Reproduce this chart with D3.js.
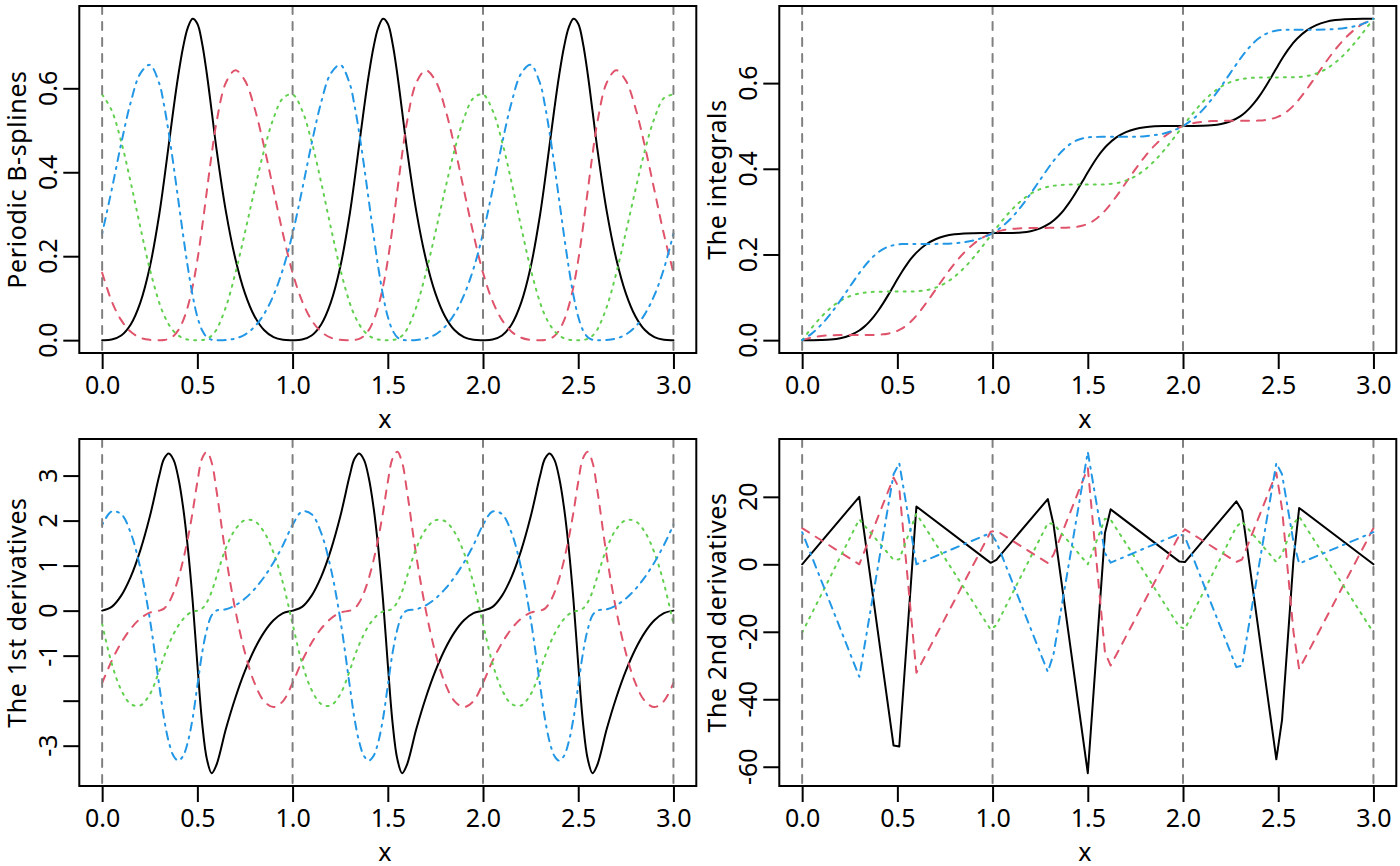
<!DOCTYPE html>
<html>
<head>
<meta charset="utf-8">
<script src="https://cdn.jsdelivr.net/npm/d3@7"></script>
<style>
body { margin:0; background:#fff; }
text { font-family:"Noto Sans", "Open Sans", sans-serif; fill:#000; }
</style>
</head>
<body>
<script>
// x grid shared by the first three panels (finer between 0.3 and 0.6 of each period)
var xs = [0,.05,.1,.15,.2,.25,.3,.325,.35,.375,.4,.425,.45,.475,.5,.525,.55,.575,.6,.65,.7,.75,.8,.85,.9,.95,
  1,1.05,1.1,1.15,1.2,1.25,1.3,1.325,1.35,1.375,1.4,1.425,1.45,1.475,1.5,1.525,1.55,1.575,1.6,1.65,1.7,1.75,1.8,1.85,1.9,1.95,
  2,2.05,2.1,2.15,2.2,2.25,2.3,2.325,2.35,2.375,2.4,2.425,2.45,2.475,2.5,2.525,2.55,2.575,2.6,2.65,2.7,2.75,2.8,2.85,2.9,2.95,
  3];

// periodic B-splines
var bsBlack = [0,.0014,.0111,.0375,.0889,.1736,.3,.3802,.4665,.5525,.6317,.6979,.7446,.7655,.754,.7069,.6335,.5462,.4571,.3063,.1929,.1116,.0571,.0241,.0071,.0009,
  0,.0014,.0111,.0375,.0889,.1736,.3,.3802,.4665,.5525,.6317,.6979,.7446,.7655,.754,.7069,.6335,.5462,.4571,.3063,.1929,.1116,.0571,.0241,.0071,.0009,
  0,.0014,.0111,.0375,.0889,.1736,.3,.3802,.4665,.5525,.6317,.6979,.7446,.7655,.754,.7069,.6335,.5462,.4571,.3063,.1929,.1116,.0571,.0241,.0071,.0009,
  0];
var bsRed = [.1607,.093,.0476,.0201,.006,.0007,0,.0004,.003,.01,.0238,.0465,.0804,.1276,.1905,.2693,.3564,.4424,.5179,.6138,.6429,.6183,.5536,.4621,.3571,.2522,
  .1607,.093,.0476,.0201,.006,.0007,0,.0004,.003,.01,.0238,.0465,.0804,.1276,.1905,.2693,.3564,.4424,.5179,.6138,.6429,.6183,.5536,.4621,.3571,.2522,
  .1607,.093,.0476,.0201,.006,.0007,0,.0004,.003,.01,.0238,.0465,.0804,.1276,.1905,.2693,.3564,.4424,.5179,.6138,.6429,.6183,.5536,.4621,.3571,.2522,
  .1607];
var bsGreen = [.5853,.5475,.473,.3759,.2702,.1699,.0889,.0595,.0375,.0217,.0111,.0047,.0014,.0002,0,.0004,.0031,.0105,.025,.0794,.1603,.2567,.3575,.4518,.5286,.5767,
  .5853,.5475,.473,.3759,.2702,.1699,.0889,.0595,.0375,.0217,.0111,.0047,.0014,.0002,0,.0004,.0031,.0105,.025,.0794,.1603,.2567,.3575,.4518,.5286,.5767,
  .5853,.5475,.473,.3759,.2702,.1699,.0889,.0595,.0375,.0217,.0111,.0047,.0014,.0002,0,.0004,.0031,.0105,.025,.0794,.1603,.2567,.3575,.4518,.5286,.5767,
  .5853];
var bsBlue = [.254,.3581,.4683,.5665,.6349,.6558,.6111,.5599,.4931,.4158,.3333,.2509,.1736,.1068,.0556,.0234,.0069,.0009,0,.0005,.004,.0134,.0317,.062,.1071,.1701,
  .254,.3581,.4683,.5665,.6349,.6558,.6111,.5599,.4931,.4158,.3333,.2509,.1736,.1068,.0556,.0234,.0069,.0009,0,.0005,.004,.0134,.0317,.062,.1071,.1701,
  .254,.3581,.4683,.5665,.6349,.6558,.6111,.5599,.4931,.4158,.3333,.2509,.1736,.1068,.0556,.0234,.0069,.0009,0,.0005,.004,.0134,.0317,.062,.1071,.1701,
  .254];

// the integrals
var ibBlack = [0,0,.0003,.0014,.0044,.0109,.0225,.031,.0416,.0543,.0691,.0858,.1039,.1228,.1419,.1602,.177,.1918,.2043,.2232,.2355,.243,.2471,.2491,.2498,.25,
  .25,.25,.2503,.2514,.2544,.2609,.2725,.281,.2916,.3043,.3191,.3358,.3539,.3728,.3919,.4102,.427,.4418,.4543,.4732,.4855,.493,.4971,.4991,.4998,.5,
  .5,.5,.5003,.5014,.5044,.5109,.5225,.531,.5416,.5543,.5691,.5858,.6039,.6228,.6419,.6602,.677,.6918,.7043,.7232,.7355,.743,.7471,.7491,.7498,.75,
  .75];
var ibRed = [0,.0062,.0097,.0113,.0119,.012,.0121,.0121,.0121,.0122,.0127,.0135,.0151,.0176,.0216,.0273,.0351,.0451,.0571,.0857,.1174,.1491,.1786,.204,.2246,.2398,
  .25,.2562,.2597,.2613,.2619,.262,.2621,.2621,.2621,.2622,.2627,.2635,.2651,.2676,.2716,.2773,.2851,.2951,.3071,.3357,.3674,.3991,.4286,.454,.4746,.4898,
  .5,.5062,.5097,.5113,.5119,.512,.5121,.5121,.5121,.5122,.5127,.5135,.5151,.5176,.5216,.5273,.5351,.5451,.5571,.5857,.6174,.6491,.6786,.704,.7246,.7398,
  .75];
var ibGreen = [0,.0285,.0541,.0754,.0916,.1025,.1089,.1107,.1119,.1127,.1131,.1133,.1133,.1133,.1133,.1134,.1134,.1135,.114,.1165,.1224,.1327,.1481,.1684,.193,.2208,
  .25,.2785,.3041,.3254,.3416,.3525,.3589,.3607,.3619,.3627,.3631,.3633,.3633,.3633,.3633,.3634,.3634,.3635,.364,.3665,.3724,.3827,.3981,.4184,.443,.4708,
  .5,.5285,.5541,.5754,.5916,.6025,.6089,.6107,.6119,.6127,.6131,.6133,.6133,.6133,.6133,.6134,.6134,.6135,.614,.6165,.6224,.6327,.6481,.6684,.693,.7208,
  .75];
var ibBlue = [0,.0152,.0359,.0619,.0921,.1246,.1565,.1712,.1844,.1958,.2052,.2125,.2178,.2212,.2232,.2242,.2245,.2246,.2246,.2246,.2247,.2251,.2262,.2285,.2326,.2395,
  .25,.2652,.2859,.3119,.3421,.3746,.4065,.4212,.4344,.4458,.4552,.4625,.4678,.4712,.4732,.4742,.4745,.4746,.4746,.4746,.4747,.4751,.4762,.4785,.4826,.4895,
  .5,.5152,.5359,.5619,.5921,.6246,.6565,.6712,.6844,.6958,.7052,.7125,.7178,.7212,.7232,.7242,.7245,.7246,.7246,.7246,.7247,.7251,.7262,.7285,.7326,.7395,
  .75];

// the 1st derivatives
var d1Black = [0,.083,.333,.75,1.333,2.083,3,3.372,3.488,3.348,2.952,2.301,1.393,.229,-1.19,-2.491,-3.298,-3.61,-3.429,-2.625,-1.929,-1.339,-.857,-.482,-.214,-.054,
  0,.083,.333,.75,1.333,2.083,3,3.372,3.488,3.348,2.952,2.301,1.393,.229,-1.19,-2.491,-3.298,-3.61,-3.429,-2.625,-1.929,-1.339,-.857,-.482,-.214,-.054,
  0,.083,.333,.75,1.333,2.083,3,3.372,3.488,3.348,2.952,2.301,1.393,.229,-1.19,-2.491,-3.298,-3.61,-3.429,-2.625,-1.929,-1.339,-.857,-.482,-.214,-.054,
  0];
var d1Red = [-1.607,-1.116,-.714,-.402,-.179,-.045,0,.045,.179,.402,.714,1.116,1.607,2.188,2.857,3.382,3.527,3.292,2.679,1.205,0,-.938,-1.607,-2.009,-2.143,-2.009,
  -1.607,-1.116,-.714,-.402,-.179,-.045,0,.045,.179,.402,.714,1.116,1.607,2.188,2.857,3.382,3.527,3.292,2.679,1.205,0,-.938,-1.607,-2.009,-2.143,-2.009,
  -1.607,-1.116,-.714,-.402,-.179,-.045,0,.045,.179,.402,.714,1.116,1.607,2.188,2.857,3.382,3.527,3.292,2.679,1.205,0,-.938,-1.607,-2.009,-2.143,-2.009,
  -1.607];
var d1Green = [-.298,-1.17,-1.762,-2.074,-2.107,-1.86,-1.333,-1.021,-.75,-.521,-.333,-.188,-.083,-.021,0,.047,.188,.422,.75,1.39,1.81,2.009,1.988,1.747,1.286,.604,
  -.298,-1.17,-1.762,-2.074,-2.107,-1.86,-1.333,-1.021,-.75,-.521,-.333,-.188,-.083,-.021,0,.047,.188,.422,.75,1.39,1.81,2.009,1.988,1.747,1.286,.604,
  -.298,-1.17,-1.762,-2.074,-2.107,-1.86,-1.333,-1.021,-.75,-.521,-.333,-.188,-.083,-.021,0,.047,.188,.422,.75,1.39,1.81,2.009,1.988,1.747,1.286,.604,
  -.298];
var d1Blue = [1.905,2.202,2.143,1.726,.952,-.179,-1.667,-2.396,-2.917,-3.229,-3.333,-3.229,-2.917,-2.396,-1.667,-.938,-.417,-.104,0,.03,.119,.268,.476,.744,1.071,1.458,
  1.905,2.202,2.143,1.726,.952,-.179,-1.667,-2.396,-2.917,-3.229,-3.333,-3.229,-2.917,-2.396,-1.667,-.938,-.417,-.104,0,.03,.119,.268,.476,.744,1.071,1.458,
  1.905,2.202,2.143,1.726,.952,-.179,-1.667,-2.396,-2.917,-3.229,-3.333,-3.229,-2.917,-2.396,-1.667,-.938,-.417,-.104,0,.03,.119,.268,.476,.744,1.071,1.458,
  1.905];

// the 2nd derivatives are straight between these points
var xs2 = [0,.3,.48,.51,.6,.99,1.02,1.29,1.32,1.5,1.59,1.62,1.98,2.01,2.28,2.31,2.49,2.52,2.58,2.61,3];
var d2Black = [0,20,-53.71,-54,17.14,.43,1.33,19.33,11.81,-61.9,9.24,16.29,.86,.67,18.67,15.9,-57.81,-46.1,1.33,16.71,0];
var d2Red = [10.71,0,25.71,22.5,-32.14,9.64,10,.36,2.86,28.57,-26.07,-30,8.57,10.36,.71,1.43,27.14,16.43,-20,-31.07,10.71];
var d2Green = [-20.24,13.33,1.33,1.5,15,-19.36,-18,12.21,12,0,13.5,13.24,-18.48,-19.12,11.1,12.67,.67,3,12,14.12,-20.24];
var d2Blue = [9.52,-33.33,26.67,30,0,9.29,6.67,-31.9,-26.67,33.33,3.33,.48,9.05,8.1,-30.48,-30,30,26.67,6.67,.24,9.52];

var xTicks = [0, 0.5, 1, 1.5, 2, 2.5, 3];
var vLines = [0, 1, 2, 3];
var ticksB = [0, 0.2, 0.4, 0.6];
var ticksD1 = [-3, -2, -1, 0, 1, 2, 3];
var labelsD1 = ['-3', '', '-1', '0', '1', '2', '3'];
var ticksD2 = [-60, -40, -20, 0, 20];

var width = 1400, height = 866;
var svg = d3.select('body').append('svg')
    .attr('width', width)
    .attr('height', height);

// matplot colours and line types 1..4
var colors = ['#000000', '#DF536B', '#61D04F', '#2297E6'];
var dashes = [null, '8,8', '2,6', '2,6,8,6'];
var fs = 25;

var pw = 617, ph = 347;
var panels = [
    {left: 79.3, top: 6, x: xs, ys: [bsBlack, bsRed, bsGreen, bsBlue], ticks: ticksB,
     labels: ticksB.map(function(d){ return d.toFixed(1); }), title: 'Periodic B-splines', smooth: true},
    {left: 779.3, top: 6, x: xs, ys: [ibBlack, ibRed, ibGreen, ibBlue], ticks: ticksB,
     labels: ticksB.map(function(d){ return d.toFixed(1); }), title: 'The integrals', smooth: true},
    {left: 79.3, top: 439, x: xs, ys: [d1Black, d1Red, d1Green, d1Blue], ticks: ticksD1,
     labels: labelsD1, title: 'The 1st derivatives', smooth: true},
    {left: 779.3, top: 439, x: xs2, ys: [d2Black, d2Red, d2Green, d2Blue], ticks: ticksD2,
     labels: ticksD2.map(String), title: 'The 2nd derivatives', smooth: false}
];

panels.forEach(function(p, i) {
    var g = svg.append('g').attr('transform', 'translate(' + p.left + ',' + p.top + ')');

    // R style ranges: data extent stretched by 4% each side
    var xe = d3.extent(p.x), xpad = (xe[1] - xe[0]) * 0.04;
    var ye = d3.extent(d3.merge(p.ys)), ypad = (ye[1] - ye[0]) * 0.04;
    var x = d3.scaleLinear().domain([xe[0] - xpad, xe[1] + xpad]).range([0, pw]);
    var y = d3.scaleLinear().domain([ye[0] - ypad, ye[1] + ypad]).range([ph, 0]);

    g.append('clipPath').attr('id', 'clip' + i)
        .append('rect').attr('width', pw).attr('height', ph);

    var line = d3.line()
        .x(function(d, j) { return x(p.x[j]); })
        .y(function(d) { return y(d); })
        .curve(p.smooth ? d3.curveCatmullRom.alpha(0.5) : d3.curveLinear);

    var plot = g.append('g').attr('clip-path', 'url(#clip' + i + ')');
    plot.selectAll('path.curve')
        .data(p.ys)
        .enter().append('path')
        .attr('class', 'curve')
        .attr('d', line)
        .attr('fill', 'none')
        .attr('stroke', function(d, j) { return colors[j]; })
        .attr('stroke-width', 2)
        .attr('stroke-linecap', 'round')
        .attr('stroke-linejoin', 'round')
        .attr('stroke-dasharray', function(d, j) { return dashes[j]; });

    // abline(v = 0:3, lty = 2, col = "gray")
    plot.selectAll('line.vl')
        .data(vLines)
        .enter().append('line')
        .attr('class', 'vl')
        .attr('x1', function(d) { return x(d); })
        .attr('x2', function(d) { return x(d); })
        .attr('y1', 0).attr('y2', ph)
        .attr('stroke', '#808080')
        .attr('stroke-width', 2)
        .attr('stroke-linecap', 'round')
        .attr('stroke-dasharray', '8,8');

    g.append('rect')
        .attr('width', pw).attr('height', ph)
        .attr('fill', 'none')
        .attr('stroke', '#000')
        .attr('stroke-width', 2);

    // x axis
    var xa = g.append('g').attr('transform', 'translate(0,' + ph + ')')
        .call(d3.axisBottom(x).tickValues(xTicks).tickSize(16).tickPadding(7.5)
            .tickFormat(function(d) { return d.toFixed(1); }));
    xa.select('.domain').remove();
    xa.selectAll('line').attr('stroke', '#000').attr('stroke-width', 2);
    xa.selectAll('text').attr('font-size', fs).attr('font-family', '"Noto Sans", "Open Sans", sans-serif');

    // y axis, labels run parallel to the axis
    var ya = g.append('g')
        .call(d3.axisLeft(y).tickValues(p.ticks).tickSize(16).tickFormat(''));
    ya.select('.domain').remove();
    ya.selectAll('line').attr('stroke', '#000').attr('stroke-width', 2);

    g.selectAll('text.ylab')
        .data(p.ticks)
        .enter().append('text')
        .attr('class', 'ylab')
        .attr('transform', function(d) { return 'translate(-22.5,' + y(d) + ') rotate(-90)'; })
        .attr('text-anchor', 'middle')
        .attr('font-size', fs)
        .text(function(d, j) { return p.labels[j]; });

    g.append('text')
        .attr('transform', 'translate(-53.5,' + (ph / 2) + ') rotate(-90)')
        .attr('text-anchor', 'middle')
        .attr('font-size', fs)
        .attr('letter-spacing', 0.6)
        .text(p.title);

    g.append('text')
        .attr('x', pw / 2 - 3)
        .attr('y', ph + 74.5)
        .attr('text-anchor', 'middle')
        .attr('font-size', fs)
        .text('x');
});
</script>
</body>
</html>
